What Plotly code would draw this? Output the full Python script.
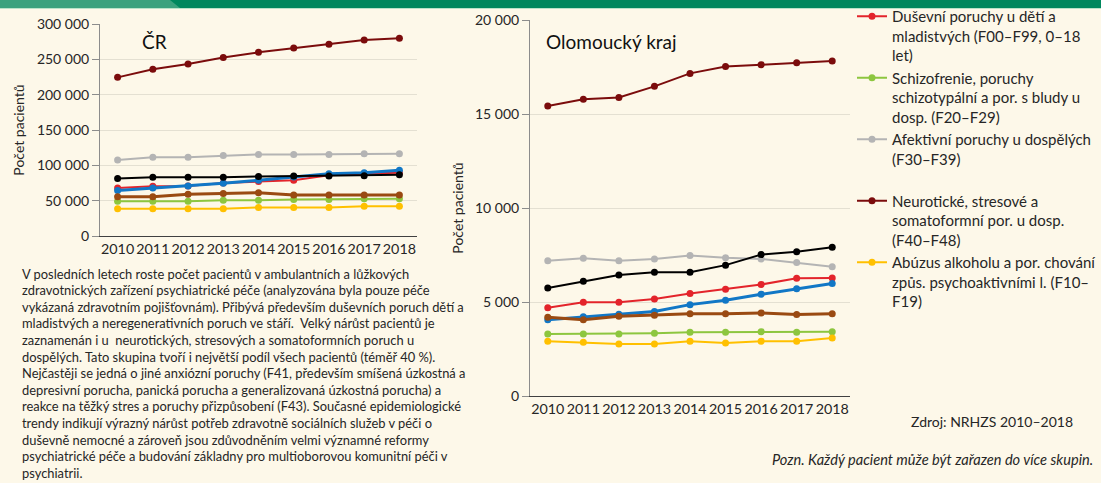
import plotly.graph_objects as go

W, H = 1101, 483
years = [2010, 2011, 2012, 2013, 2014, 2015, 2016, 2017, 2018]

legend_names = [
    "Duševní poruchy u dětí a<br>mladistvých (F00–F99, 0–18<br>let)",
    "Schizofrenie, poruchy<br>schizotypální a por. s bludy u<br>dosp. (F20–F29)",
    "Afektivní poruchy u dospělých<br>(F30–F39)<br>\u00a0",
    "Neurotické, stresové a<br>somatoformní por. u dosp.<br>(F40–F48)",
    "Abúzus alkoholu a por. chování<br>způs. psychoaktivními l. (F10–<br>F19)",
]
other_names = ["Skupina 6", "Skupina 7", "Skupina 8"]

# ČR
cr_deti = [68000, 70500, 70800, 75000, 77000, 79000, 86000, 88500, 89500]
cr_schizo = [49000, 49000, 49000, 50500, 50500, 51800, 51800, 52800, 52800]
cr_afekt = [107500, 111500, 111500, 114000, 115500, 115500, 115500, 116500, 116500]
cr_neuro = [224500, 236000, 243500, 252500, 260000, 266000, 271500, 277500, 280000]
cr_alko = [38700, 38700, 38700, 38700, 40500, 40500, 40500, 42000, 42000]
cr_blue = [64500, 68000, 70800, 74500, 79000, 83500, 88000, 89500, 93000]
cr_black = [81500, 83000, 83000, 83000, 84300, 84800, 84800, 85300, 86700]
cr_brown = [55700, 55700, 59000, 60000, 61300, 58000, 58000, 58000, 58000]

# Olomoucký kraj
ol_deti = [4700, 4990, 4990, 5160, 5450, 5680, 5930, 6260, 6280]
ol_schizo = [3300, 3300, 3300, 3340, 3390, 3390, 3420, 3390, 3420]
ol_afekt = [7190, 7330, 7190, 7290, 7470, 7350, 7290, 7100, 6870]
ol_neuro = [15420, 15790, 15880, 16470, 17160, 17530, 17620, 17730, 17820]
ol_alko = [2910, 2860, 2770, 2770, 2910, 2820, 2910, 2910, 3090]
ol_blue = [4060, 4210, 4350, 4490, 4860, 5090, 5410, 5700, 5980]
ol_black = [5750, 6100, 6440, 6580, 6580, 6960, 7520, 7670, 7910]
ol_brown = [4190, 4050, 4240, 4290, 4380, 4380, 4420, 4330, 4380]

colors = ["#E3242B", "#8DC63F", "#B4B4B4", "#7B0C0C", "#FFC000"]
other_colors = ["#1177C6", "#000000", "#9A4A12"]

paragraph = [
    "V posledních letech roste počet pacientů v ambulantních a lůžkových",
    "zdravotnických zařízení psychiatrické péče (analyzována byla pouze péče",
    "vykázaná zdravotním pojišťovnám). Přibývá především duševních poruch dětí a",
    "mladistvých a neregenerativních poruch ve stáří.  Velký nárůst pacientů je",
    "zaznamenán i u  neurotických, stresových a somatoformních poruch u",
    "dospělých. Tato skupina tvoří i největší podíl všech pacientů (téměř 40 %).",
    "Nejčastěji se jedná o jiné anxiózní poruchy (F41, především smíšená úzkostná a",
    "depresivní porucha, panická porucha a generalizovaná úzkostná porucha) a",
    "reakce na těžký stres a poruchy přizpůsobení (F43). Současné epidemiologické",
    "trendy indikují výrazný nárůst potřeb zdravotně sociálních služeb v péči o",
    "duševně nemocné a zároveň jsou zdůvodněním velmi významné reformy",
    "psychiatrické péče a budování základny pro multioborovou komunitní péči v",
    "psychiatrii.",
]

FONT = "Lato"
TXT = "#262626"

fig = go.Figure()

main_cr = [cr_deti, cr_schizo, cr_afekt, cr_neuro, cr_alko]
main_ol = [ol_deti, ol_schizo, ol_afekt, ol_neuro, ol_alko]
oth_cr = [cr_blue, cr_black, cr_brown]
oth_ol = [ol_blue, ol_black, ol_brown]
oth_w = [3, 2, 3]

for (xa, ya, mains, oths, sl) in [("x", "y", main_cr, oth_cr, True), ("x2", "y2", main_ol, oth_ol, False)]:
    for i, vals in enumerate(mains):
        fig.add_trace(go.Scatter(
            x=years, y=vals, name=legend_names[i], xaxis=xa, yaxis=ya,
            mode="lines+markers", line=dict(color=colors[i], width=2),
            marker=dict(color=colors[i], size=7), showlegend=sl, legendrank=i + 1,
        ))
    for j, vals in enumerate(oths):
        fig.add_trace(go.Scatter(
            x=years, y=vals, name=other_names[j], xaxis=xa, yaxis=ya,
            mode="lines+markers", line=dict(color=other_colors[j], width=oth_w[j]),
            marker=dict(color=other_colors[j], size=7), showlegend=False,
        ))

def px_x(p):
    return p / W

def px_y(p):
    return 1 - p / H

axis_common = dict(
    showline=True, ticks="outside", ticklen=7, automargin=False,
    tickfont=dict(family=FONT, size=14, color=TXT),
)
xtick_font = dict(family=FONT, size=14.3, color=TXT)
fig.update_layout(
    template="none",
    width=W, height=H,
    margin=dict(l=0, r=0, t=0, b=0, autoexpand=False),
    paper_bgcolor="#FDF8E9", plot_bgcolor="#FDF8E9",
    separators=", ",
    font=dict(family=FONT, color=TXT),
    xaxis=dict(domain=[px_x(100), px_x(417)], range=[2009.5, 2018.5], dtick=1,
               showgrid=False, linecolor="#404040", linewidth=1, ticks="",
               tickfont=xtick_font, showline=True, anchor="y", tickangle=0,
               automargin=False, zeroline=False),
    yaxis=dict(domain=[px_y(236), px_y(24)], range=[0, 300000], dtick=50000,
               tickformat=",d", gridcolor="#E4E0D2", linecolor="#8C8C8C",
               tickcolor="#8C8C8C", zeroline=False, anchor="x",
               title=dict(text="Počet pacientů", font=dict(family=FONT, size=14, color=TXT), standoff=8),
               **axis_common),
    xaxis2=dict(domain=[px_x(530), px_x(850)], range=[2009.5, 2018.5], dtick=1,
                showgrid=False, linecolor="#404040", linewidth=1, ticks="",
                tickfont=xtick_font, showline=True, anchor="y2", tickangle=0,
                automargin=False, zeroline=False),
    yaxis2=dict(domain=[px_y(396), px_y(20)], range=[0, 20000], dtick=5000,
                tickformat=",d", gridcolor="#E4E0D2", linecolor="#8C8C8C",
                tickcolor="#8C8C8C", zeroline=False, anchor="x2",
                title=dict(text="Počet pacientů", font=dict(family=FONT, size=14, color=TXT), standoff=8),
                **axis_common),
    legend=dict(x=px_x(852), y=1, xanchor="left", yanchor="top",
                bgcolor="rgba(0,0,0,0)", font=dict(family=FONT, size=15, color=TXT),
                valign="top", itemwidth=30, tracegroupgap=0, borderwidth=0),
    showlegend=True,
)

# top decorative band
fig.add_shape(type="rect", xref="paper", yref="paper", x0=0, x1=1, y0=px_y(8), y1=1,
              fillcolor="#00885E", line=dict(width=0), layer="above")
fig.add_shape(type="rect", xref="paper", yref="paper", x0=0, x1=1, y0=px_y(9), y1=px_y(8),
              fillcolor="#B9E3C9", line=dict(width=0), layer="above")
fig.add_shape(type="path", xref="paper", yref="paper",
              path=f"M 0 1 L {px_x(170)} 1 L {px_x(180)} {px_y(8)} L 0 {px_y(8)} Z",
              fillcolor="#3BA27E", line=dict(width=0), layer="above")

anns = [
    dict(text="ČR", x=px_x(140), y=px_y(41), xanchor="left", yanchor="middle",
         font=dict(family=FONT, size=19, color="#111111")),
    dict(text="Olomoucký kraj", x=px_x(544), y=px_y(41), xanchor="left", yanchor="middle",
         font=dict(family=FONT, size=19, color="#111111")),
    dict(text="Zdroj: NRHZS 2010–2018", x=px_x(909), y=px_y(421), xanchor="left", yanchor="middle",
         font=dict(family=FONT, size=14, color=TXT)),
    dict(text="<i>Pozn. Každý pacient může být zařazen do více skupin.</i>", x=px_x(770), y=px_y(459),
         xanchor="left", yanchor="middle", font=dict(family=FONT, size=14.6, color=TXT)),
]
for k, line in enumerate(paragraph):
    anns.append(dict(text=line, x=px_x(20), y=px_y(273.5 + k * 16.6), xanchor="left", yanchor="middle",
                     font=dict(family=FONT, size=12.9, color=TXT)))
for a in anns:
    a.update(xref="paper", yref="paper", showarrow=False)
fig.update_layout(annotations=anns)

fig.write_html("out.html", config={"displayModeBar": False},
               post_script="document.body.style.margin='0';document.body.style.overflow='hidden';")
